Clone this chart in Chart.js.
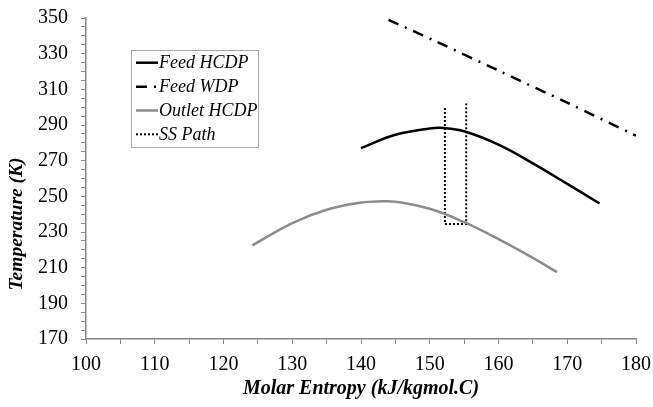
<!DOCTYPE html>
<html lang="en">
<head>
<meta charset="UTF-8">
<title>Temperature vs Molar Entropy</title>
<script src="https://cdn.jsdelivr.net/npm/chart.js"></script>
<style>
  html, body { margin: 0; padding: 0; background: #fff; }
</style>
</head>
<body>
<canvas id="grafico" width="653" height="407"></canvas>
<script>
  // valores
  const feedHcdpX = [140, 145, 150, 152, 155, 160, 165, 170, 174.7];
  const feedHcdpY = [277, 284.5, 288, 288.3, 286.5, 279, 268.5, 257, 246];

  const feedWdpX = [144, 151, 160, 170, 180];
  const feedWdpY = [349, 336.7, 320.5, 302.5, 284];

  const outletX = [124.2, 130, 135, 140, 143, 145, 150, 155, 160, 165, 168.5];
  const outletY = [222.5, 235, 242.5, 246.5, 247.2, 247, 243, 235.5, 226, 215.5, 207.5];

  const ssPathX = [152.2, 152.2, 155.3, 155.3];
  const ssPathY = [299.5, 234.5, 234.5, 302];

  const xTitle = 'Molar Entropy (kJ/kgmol.C)';
  const yTitle = 'Temperature (K)';

  const serif = '"Liberation Serif", "Times New Roman", serif';
  const axisGray = '#868686';

  const pts = (xs, ys) => xs.map((x, i) => ({ x, y: ys[i] }));

  const datasets = [
    { label: 'Feed HCDP', data: pts(feedHcdpX, feedHcdpY), borderColor: '#000', borderWidth: 2.5, tension: 0.4 },
    { label: 'Feed WDP', data: pts(feedWdpX, feedWdpY), borderColor: '#000', borderWidth: 2.5, borderDash: [11, 7, 2, 7], tension: 0.3 },
    { label: 'Outlet HCDP', data: pts(outletX, outletY), borderColor: '#8c8c8c', borderWidth: 2.5, tension: 0.4 },
    { label: 'SS Path', data: pts(ssPathX, ssPathY), borderColor: '#000', borderWidth: 2, borderDash: [2, 2], tension: 0 }
  ];
  datasets.forEach(d => { d.pointRadius = 0; d.fill = false; d.showLine = true; });

  // leyenda con marco y título del eje y, dibujados a mano
  const extras = {
    id: 'extras',
    afterDraw(chart) {
      const ctx = chart.ctx;
      ctx.save();
      ctx.translate(17, 224);
      ctx.rotate(-Math.PI / 2);
      ctx.font = 'italic bold 19.5px ' + serif;
      ctx.textAlign = 'center';
      ctx.textBaseline = 'middle';
      ctx.fillStyle = '#000';
      ctx.fillText(yTitle, 0, 0);
      ctx.restore();

      ctx.save();
      ctx.fillStyle = '#fff';
      ctx.fillRect(131.5, 50.5, 127, 97);
      ctx.strokeStyle = '#a8a8a8';
      ctx.lineWidth = 1;
      ctx.strokeRect(131.5, 50.5, 127, 97);
      const rows = [62.7, 86.7, 110.5, 134.3];
      chart.data.datasets.forEach((d, i) => {
        const y = rows[i];
        ctx.beginPath();
        ctx.setLineDash(d.borderDash || []);
        ctx.strokeStyle = d.borderColor;
        ctx.lineWidth = d.borderWidth;
        ctx.moveTo(136, y);
        ctx.lineTo(158, y);
        ctx.stroke();
        ctx.setLineDash([]);
        ctx.font = 'italic 18px ' + serif;
        ctx.fillStyle = '#000';
        ctx.textAlign = 'left';
        ctx.textBaseline = 'middle';
        ctx.fillText(d.label, 159, y + 1);
      });
      ctx.restore();
    }
  };

  new Chart(document.getElementById('grafico').getContext('2d'), {
    type: 'scatter',
    data: { datasets },
    options: {
      responsive: false,
      animation: false,
      layout: { padding: { left: 0, right: 17, top: 18, bottom: 0 } },
      plugins: { legend: { display: false }, tooltip: { enabled: false } },
      scales: {
        x: {
          type: 'linear', min: 100, max: 180,
          afterFit: s => { s.height = 68; s.paddingLeft = 0; s.paddingRight = 0; },
          border: { color: axisGray, width: 1.5 },
          grid: { drawOnChartArea: false, color: axisGray, tickLength: 5, tickWidth: 1 },
          ticks: {
            stepSize: 5, autoSkip: false, maxRotation: 0, padding: 9,
            color: '#000', font: { family: serif, size: 20 },
            callback: v => (v % 10 === 0 ? String(v) : '')
          },
          title: { display: true, text: xTitle, color: '#000', padding: { top: 0, bottom: 6 },
                   font: { family: serif, size: 20, style: 'italic', weight: 'bold' } }
        },
        y: {
          type: 'linear', min: 170, max: 350,
          afterFit: s => { s.width = 86; s.paddingTop = 0; s.paddingBottom = 0; },
          border: { color: axisGray, width: 1.5 },
          grid: { drawOnChartArea: false, color: axisGray, tickLength: 5, tickWidth: 1 },
          ticks: {
            stepSize: 5, autoSkip: false, padding: 13,
            color: '#000', font: { family: serif, size: 20 },
            callback: v => ((v - 170) % 20 === 0 ? String(v) : '')
          }
        }
      }
    },
    plugins: [extras]
  });
</script>
</body>
</html>
